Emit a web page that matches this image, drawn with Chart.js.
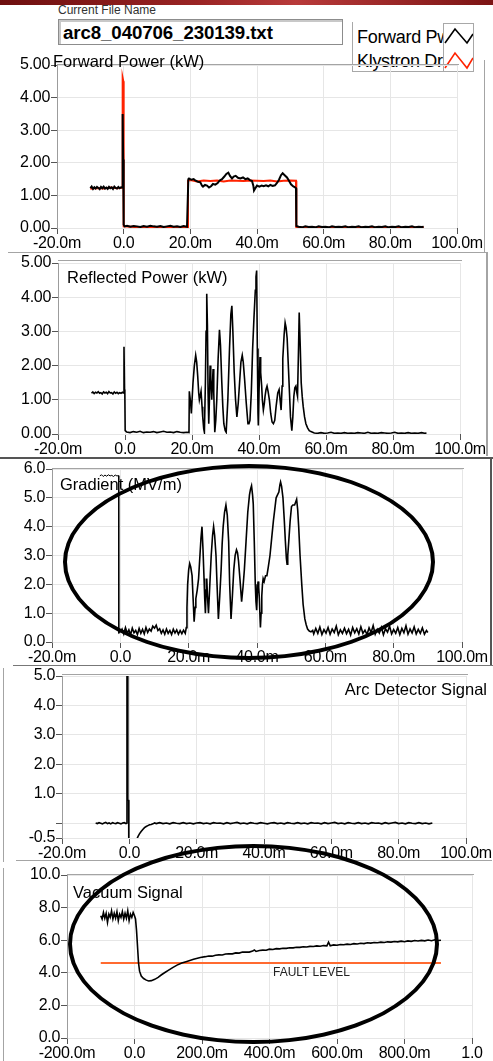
<!DOCTYPE html>
<html>
<head>
<meta charset="utf-8">
<script src="https://cdn.jsdelivr.net/npm/chart.js@4.4.1/dist/chart.umd.min.js"></script>
<style>
  body { margin:0; width:493px; height:1061px; overflow:hidden; background:#fff; position:relative;
         font-family:"Liberation Sans", Arial, sans-serif; }
  canvas { position:absolute; left:0; }
  .t { position:absolute; white-space:nowrap; line-height:1; color:#000; }
  .ln { position:absolute; background:#a4a4a4; }
  .ring { position:absolute; border:4px solid #000; border-radius:50%; box-sizing:border-box; pointer-events:none; }
  #banner { position:absolute; left:0; top:0; width:493px; height:5px;
            background:linear-gradient(90deg,#6e0f0f,#9a2424 40%,#b83a3a 60%,#7c1414); }
  #fileBox { position:absolute; left:58px; top:19px; width:285px; height:26px; box-sizing:border-box;
             border:1px solid #8c8c8c; box-shadow:inset 2px 2px 0 #c8c8c8; background:#fff; }
  #legText { position:absolute; left:352px; top:22px; width:91px; height:50px; overflow:hidden;
             border-left:1px solid #a8a8a8; border-bottom:1px solid #a8a8a8; box-sizing:border-box; }
  #legGlyph { position:absolute; left:443px; top:23px; width:31px; height:49px; box-sizing:border-box;
              border:1px solid #a8a8a8; background:#fff; }
</style>
</head>
<body>
<div id="banner"></div>
<div class="t" style="left:58px;top:4px;font-size:12px;color:#333">Current File Name</div>
<div id="fileBox"></div>
<div class="t" style="left:63px;top:24px;font-size:18.7px;font-weight:bold;letter-spacing:-0.1px">arc8_040706_230139.txt</div>

<div id="legText">
  <div class="t" style="left:4px;top:6px;font-size:18px;letter-spacing:-0.3px">Forward Pwr</div>
  <div class="t" style="left:4px;top:30px;font-size:18px;letter-spacing:-0.3px">Klystron Drive</div>
</div>
<div id="legGlyph">
  <svg width="29" height="47" viewBox="0 0 29 47">
    <polyline points="1,19 11,5 23,19 29,10" fill="none" stroke="#000" stroke-width="1.6"/>
    <polyline points="1,44 11,29 23,44 29,34" fill="none" stroke="#ff2200" stroke-width="1.6"/>
  </svg>
</div>

<!-- panel frames -->
<div class="ln" style="left:484px;top:60px;width:1px;height:192px"></div>
<div class="ln" style="left:8px;top:252px;width:478px;height:1px"></div>
<div class="ln" style="left:486px;top:252px;width:2px;height:204px"></div>
<div class="ln" style="left:0;top:457px;width:493px;height:2px;background:#555"></div>
<div class="ln" style="left:490px;top:458px;width:2px;height:207px;background:#555"></div>
<div class="ln" style="left:13px;top:665px;width:480px;height:1px;background:#777"></div>
<div class="ln" style="left:3px;top:668px;width:1px;height:194px"></div>
<div class="ln" style="left:16px;top:860px;width:476px;height:1px"></div>
<div class="ln" style="left:3px;top:868px;width:1px;height:193px"></div>

<canvas id="c1"></canvas>
<canvas id="c2"></canvas>
<canvas id="c3"></canvas>
<canvas id="c4"></canvas>
<canvas id="c5"></canvas>

<div class="t" style="left:53px;top:53px;font-size:16.5px">Forward Power (kW)</div>
<div class="t" style="left:67px;top:269px;font-size:16.5px">Reflected Power (kW)</div>
<div class="t" style="left:60px;top:476px;font-size:16.5px">Gradient (MV/m)</div>
<div class="t" style="right:6px;top:681px;font-size:16.5px">Arc Detector Signal</div>
<div class="t" style="left:73px;top:884px;font-size:16.5px">Vacuum Signal</div>
<div class="t" style="left:273px;top:966px;font-size:12px;color:#222">FAULT LEVEL</div>

<div class="ring" style="left:63px;top:464px;width:372px;height:196px"></div>
<div class="ring" style="left:68px;top:844px;width:371px;height:200px"></div>

<script>
// time in ms
const fwdPower = [[-10,1.22],[-9.6,1.27],[-9.2,1.20],[-8.8,1.25],[-8.4,1.21],[-8,1.26],[-7.6,1.23],[-7.2,1.19],[-6.8,1.26],[-6.4,1.22],[-6,1.27],[-5.6,1.21],[-5.2,1.24],[-4.8,1.20],[-4.4,1.26],[-4,1.22],[-3.6,1.25],[-3.2,1.20],[-2.8,1.27],[-2.4,1.23],[-2,1.21],[-1.6,1.26],[-1.2,1.22],[-0.8,1.25],[-0.5,1.24],[-0.3,3.50],[-0.15,2.10],[0,0.10],[0.3,0.05],[1,0.07],[2,0.04],[3,0.06],[4,0.05],[5,0.03],[6,0.06],[7,0.04],[8,0.07],[9,0.05],[10,0.04],[11,0.06],[12,0.03],[13,0.05],[14,0.07],[15,0.04],[16,0.05],[17,0.03],[18,0.06],[19,0.04],[19.3,0.04],[19.4,1.50],
  [19.6,1.52],[20.3,1.48],[21,1.50],[21.6,1.45],[22.3,1.42],[23,1.40],[23.5,1.30],[23.8,1.27],[24.4,1.32],[25,1.30],[25.6,1.24],[26.2,1.28],[26.8,1.35],[27.5,1.33],[28.2,1.38],[28.8,1.46],[29.5,1.50],[30.2,1.58],[30.8,1.66],[31.4,1.70],[31.9,1.60],[32.5,1.52],[33,1.58],[33.6,1.60],[34.3,1.54],[35,1.52],[35.8,1.55],[36.5,1.50],[37.2,1.52],[37.9,1.47],[38.5,1.44],[38.9,1.30],[39.1,1.15],[39.5,1.22],[40,1.30],[40.7,1.27],[41.4,1.30],[42,1.28],[42.7,1.31],[43.4,1.28],[44,1.32],[44.7,1.29],[45.4,1.31],[46,1.38],[46.6,1.48],[47.2,1.62],[47.7,1.68],[48.3,1.62],[49,1.55],[49.6,1.45],[50.2,1.34],[50.8,1.28],[51.4,1.25],[51.7,1.22],[51.8,0.06],
  [52.5,0.04],[53.5,0.02],[54.5,0.05],[55.5,0.03],[56.5,0.04],[57.5,0.02],[58.5,0.05],[59.5,0.03],[60.5,0.04],[61.5,0.02],[62.5,0.05],[63.5,0.03],[64.5,0.04],[65.5,0.03],[66.5,0.05],[67.5,0.02],[68.5,0.04],[69.5,0.03],[70.5,0.05],[71.5,0.02],[72.5,0.04],[73.5,0.03],[74.5,0.05],[75.5,0.02],[76.5,0.04],[77.5,0.03],[78.5,0.05],[79.5,0.02],[80.5,0.04],[81.5,0.03],[82.5,0.05],[83.5,0.02],[84.5,0.04],[85.5,0.03],[86.5,0.05],[87.5,0.02],[88.5,0.04],[89.5,0.03],[90,0.04]];

const klyDrive = [[-10,1.20],[-8,1.23],[-6,1.21],[-4,1.24],[-2,1.22],[-0.6,1.23],[-0.45,1.25],[-0.3,4.60],[-0.1,4.50],[0,0.05],[5,0.02],[10,0.03],[15,0.02],[19.2,0.02],[19.3,1.45],
  [20,1.47],[22,1.43],[24,1.46],[26,1.44],[28,1.46],[30,1.43],[32,1.46],[34,1.45],[36,1.44],[38,1.46],[40,1.45],[42,1.44],[44,1.46],[46,1.43],[48,1.45],[50,1.46],[51.7,1.45],[51.8,0.02],[60,0.01],[70,0.02],[80,0.01],[90,0.02]];

const reflPower = [[-10,1.19],[-9.6,1.23],[-9.2,1.18],[-8.8,1.22],[-8.4,1.20],[-8,1.24],[-7.6,1.19],[-7.2,1.21],[-6.8,1.17],[-6.4,1.23],[-6,1.20],[-5.6,1.22],[-5.2,1.18],[-4.8,1.24],[-4.4,1.20],[-4,1.21],[-3.6,1.17],[-3.2,1.23],[-2.8,1.19],[-2.4,1.22],[-2,1.18],[-1.6,1.21],[-1.2,1.19],[-0.8,1.22],[-0.5,1.20],[-0.3,2.55],[-0.15,1.30],[-0.05,1.20],[0.05,0.10],
  [0.5,0.06],[1.5,0.04],[2.5,0.07],[3.5,0.05],[4.5,0.08],[5.5,0.04],[6.5,0.06],[7.5,0.05],[8.5,0.07],[9.5,0.04],[10.5,0.06],[11.5,0.08],[12.5,0.05],[13.5,0.06],[14.5,0.04],[15.5,0.07],[16.5,0.05],[17.5,0.04],[18.5,0.05],[19.1,0.04],
  [19.2,1.25],[19.6,0.9],[19.8,0.6],[20.3,1.5],[20.7,2.0],[21.1,2.3],[21.4,2.1],[21.7,1.7],[22.0,1.2],[22.2,1.0],[22.5,1.15],[22.7,1.25],[23.0,0.8],[23.2,0.5],[23.5,0.15],[23.7,0.05],[24.0,1.5],[24.2,3.0],[24.4,4.1],[24.6,3.2],[24.8,1.2],[25.0,0.3],[25.2,1.0],[25.4,2.0],[25.6,1.6],[25.9,1.0],[26.1,1.5],[26.3,1.9],[26.5,1.2],[26.8,0.05],[27.1,0.4],[27.4,1.0],[27.8,2.2],[28.2,3.05],[28.5,2.6],[28.9,1.5],[29.2,0.8],[29.5,0.3],[29.9,0.1],[30.2,0.05],[30.7,1.0],[31.2,2.5],[31.6,3.5],[31.9,3.75],[32.2,3.0],[32.6,1.8],[33.0,1.0],[33.4,0.5],[33.8,0.9],[34.2,1.5],[34.6,2.1],[35.0,2.3],[35.3,2.1],[35.7,1.6],[36.2,0.9],[36.7,0.3],[37.0,0.3],[37.3,0.4],[37.7,1.2],[38.1,2.5],[38.5,3.4],[38.9,4.2],[39.1,4.6],[39.3,4.78],[39.5,2.5],[39.7,0.6],[39.8,0.25],[40.0,1.2],[40.3,2.25],[40.5,1.8],[40.8,1.4],[41.0,1.0],[41.3,0.7],[41.6,0.9],[41.8,1.1],[42.1,1.3],[42.4,1.4],[42.7,1.25],[43.1,1.0],[43.5,0.6],[43.9,0.35],[44.3,0.3],[44.7,0.4],[45.1,0.8],[45.6,1.2],[46.0,1.3],[46.3,1.0],[46.6,0.7],[46.9,1.4],[47.1,2.2],[47.5,2.9],[47.8,3.25],[48.1,3.1],[48.4,2.8],[48.8,1.9],[49.1,1.2],[49.4,0.5],[49.8,0.1],[50.1,0.5],[50.4,1.1],[50.7,1.35],[51.0,1.4],[51.3,1.2],[51.5,1.1],[51.8,2.5],[52.0,3.55],[52.3,2.6],[52.6,1.5],[52.9,1.1],[53.2,0.8],[53.6,0.5],[54.0,0.3],[54.5,0.18],[55.0,0.1],[55.5,0.07],[56.0,0.05],
  [56.5,0.03],[57.5,0.02],[58.5,0.04],[59.5,0.02],[60.5,0.03],[61.5,0.05],[62.5,0.02],[63.5,0.03],[64.5,0.02],[65.5,0.04],[66.5,0.02],[67.5,0.03],[68.5,0.02],[69.5,0.04],[70.5,0.03],[71.5,0.02],[72.5,0.05],[73.5,0.02],[74.5,0.03],[75.5,0.02],[76.5,0.04],[77.5,0.03],[78.5,0.02],[79.5,0.03],[80.5,0.05],[81.5,0.02],[82.5,0.03],[83.5,0.02],[84.5,0.04],[85.5,0.02],[86.5,0.03],[87.5,0.02],[88.5,0.04],[89.5,0.02],[90,0.03]];

const gradient = [[-6,5.76],[-5.5,5.80],[-5,5.74],[-4.5,5.79],[-4,5.75],[-3.5,5.80],[-3,5.76],[-2.5,5.78],[-2,5.74],[-1.5,5.79],[-1,5.76],[-0.5,5.77],[-0.45,0.30],
  [0,0.35],[0.5,0.45],[1,0.28],[1.5,0.50],[2,0.30],[2.5,0.42],[3,0.25],[3.5,0.48],[4,0.32],[4.5,0.40],[5,0.26],[5.5,0.47],[6,0.30],[6.5,0.44],[7,0.28],[7.5,0.50],[8,0.33],[8.5,0.45],[9,0.38],[9.5,0.55],[10,0.48],[10.5,0.58],[11,0.40],[11.5,0.46],[12,0.30],[12.5,0.42],[13,0.27],[13.5,0.45],[14,0.30],[14.5,0.40],[15,0.26],[15.5,0.44],[16,0.31],[16.5,0.42],[17,0.27],[17.5,0.40],[18,0.29],[18.5,0.41],[19,0.30],
  [19.3,0.5],[19.5,1.2],[19.7,2.0],[20.0,2.5],[20.3,2.72],[20.6,2.6],[21.0,2.3],[21.3,1.5],[21.6,0.7],[21.9,1.2],[22.1,1.5],[22.5,1.8],[22.9,2.2],[23.3,3.0],[23.6,3.6],[23.9,4.0],[24.2,3.2],[24.5,2.2],[24.7,1.5],[24.9,1.0],[25.1,1.8],[25.3,2.2],[25.5,1.6],[25.8,1.0],[26.2,2.0],[26.6,3.0],[27.0,3.7],[27.3,4.0],[27.6,3.7],[28.0,3.0],[28.3,2.0],[28.7,0.8],[29.1,1.6],[29.5,2.5],[29.8,3.4],[30.1,4.0],[30.5,4.5],[30.9,4.75],[31.3,4.4],[31.7,3.5],[32.0,2.0],[32.4,0.8],[32.8,1.6],[33.2,2.5],[33.6,3.0],[34.0,3.2],[34.3,3.1],[34.6,2.8],[35.0,2.2],[35.5,1.4],[35.9,1.9],[36.3,2.5],[36.8,3.5],[37.3,4.5],[37.8,5.1],[38.1,5.3],[38.4,5.42],[38.7,5.1],[38.9,4.8],[39.2,3.5],[39.5,2.0],[39.7,1.4],[39.9,1.1],[40.1,1.7],[40.3,2.1],[40.5,1.9],[40.7,1.5],[40.9,0.8],[41.0,0.5],[41.2,1.0],[41.4,1.6],[41.6,2.0],[41.8,2.2],[42.1,2.1],[42.5,2.3],[42.9,2.3],[43.3,2.6],[43.8,3.0],[44.3,3.6],[44.8,4.2],[45.2,4.6],[45.6,5.0],[46.0,5.1],[46.4,5.2],[46.7,5.45],[46.9,5.55],[47.2,5.4],[47.6,5.0],[48.0,4.2],[48.3,3.5],[48.6,2.9],[48.8,2.7],[49.0,3.0],[49.3,3.5],[49.7,4.2],[50.1,4.7],[50.5,4.75],[51.0,4.75],[51.3,4.85],[51.6,4.95],[51.9,4.6],[52.2,4.0],[52.6,3.0],[53.1,2.0],[53.5,1.3],[54.0,0.8],[54.4,0.6],[54.8,0.45],[55.3,0.38],
  [55.8,0.35],[56.3,0.40],[56.6,0.28],[57.2,0.47],[57.8,0.30],[58.4,0.52],[59,0.26],[59.6,0.43],[60.2,0.31],[60.8,0.50],[61.4,0.27],[62,0.45],[62.6,0.33],[63.2,0.55],[63.8,0.25],[64.4,0.42],[65,0.30],[65.6,0.48],[66.2,0.29],[66.8,0.44],[67.4,0.24],[68,0.50],[68.6,0.32],[69.2,0.46],[69.8,0.28],[70.4,0.53],[71,0.30],[71.6,0.41],[72.2,0.26],[72.8,0.49],[73.4,0.33],[74,0.57],[74.6,0.27],[75.2,0.44],[75.8,0.31],[76.4,0.51],[77,0.25],[77.6,0.46],[78.2,0.34],[78.8,0.55],[79.4,0.28],[80,0.43],[80.6,0.30],[81.2,0.50],[81.8,0.26],[82.4,0.47],[83,0.32],[83.6,0.56],[84.2,0.27],[84.8,0.45],[85.4,0.31],[86,0.52],[86.6,0.28],[87.2,0.44],[87.8,0.30],[88.4,0.49],[89,0.27],[89.6,0.40],[90,0.33]];

const arcSignal = [[-10,0.01],[-9.5,-0.01],[-9,0.02],[-8.5,0],[-8,-0.02],[-7.5,0.01],[-7,0.03],[-6.5,-0.01],[-6,0.01],[-5.5,-0.02],[-5,0.02],[-4.5,0],[-4,-0.01],[-3.5,0.02],[-3,0],[-2.5,-0.02],[-2,0.01],[-1.5,0.02],[-1,-0.01],[-0.75,0.01],[-0.7,5.0],[-0.5,5.0],[-0.45,0.8],[-0.2,0.78],[-0.15,-1.5],[0.5,-2.0],[1.5,-1.1],
  [2.2,-0.55],[2.6,-0.44],[3.0,-0.36],[3.5,-0.28],[4.0,-0.21],[4.5,-0.15],[5.0,-0.11],[5.5,-0.08],[6.0,-0.05],[6.5,-0.04],[7.0,-0.02],[7.5,0.01],[8,-0.01],[9,0.02],[10,-0.01],[11,0.01],[12,-0.02],[13,0.02],[14,0],[15,-0.01],[16,0.02],[17,-0.01],[18,0.01],[19,-0.02],[20,0.01],[21,0.02],[22,-0.01],[23,0.01],[24,-0.02],[25,0.02],[26,0],[27,0.01],[28,-0.02],[29,0.02],[30,-0.01],[31,0.01],[32,0.03],[33,-0.01],[34,0.01],[35,-0.02],[36,0.02],[37,0],[38,-0.01],[39,0.02],[40,0],[41,-0.02],[42,0.01],[43,0.02],[44,-0.01],[45,0.01],[46,-0.02],[47,0.02],[48,0],[49,-0.01],[50,0.02],[51,-0.01],[52,0.01],[53,-0.02],[54,0.02],[55,0],[56,0.01],[57,-0.02],[58,0.02],[59,-0.01],[60,0.01],[61,0.03],[62,-0.01],[63,0.01],[64,-0.02],[65,0.02],[66,0],[67,-0.01],[68,0.02],[69,-0.01],[70,0.01],[71,-0.02],[72,0.02],[73,0],[74,0.01],[75,-0.02],[76,0.02],[77,-0.01],[78,0.01],[79,0.03],[80,-0.01],[81,0.01],[82,-0.02],[83,0.02],[84,0],[85,-0.01],[86,0.02],[87,-0.01],[88,0.01],[89,-0.02],[90,0.01]];

const vacSignal = [[-100,7.5],[-96,7.3],[-92,7.7],[-88,7.35],[-84,7.65],[-80,7.1],[-76,7.6],[-72,7.4],[-68,7.8],[-64,7.3],[-60,7.65],[-56,7.35],[-52,7.75],[-48,7.2],[-44,7.6],[-40,7.4],[-36,7.75],[-32,7.3],[-28,7.65],[-24,7.35],[-20,7.8],[-16,7.2],[-12,7.6],[-8,7.4],[-4,7.7],[0,7.5],
  [3,7.3],[6,6.6],[9,5.6],[12,4.6],[15,4.1],[20,3.8],[27,3.65],[35,3.55],[42,3.5],[50,3.52],[60,3.6],[70,3.72],[80,3.88],[90,4.02],[100,4.15],[113,4.32],[126,4.47],[140,4.6],[155,4.7],[175,4.83],[195,4.94],
  [210,4.99],[220,5.03],[230,5.02],[240,5.08],[250,5.10],[260,5.09],[270,5.15],[280,5.17],[290,5.16],[300,5.22],[310,5.21],[320,5.27],[330,5.28],[340,5.27],[350,5.33],[355,5.40],[360,5.31],[370,5.37],[380,5.39],[390,5.38],[400,5.45],[410,5.43],[420,5.48],[430,5.47],[440,5.51],[450,5.50],[460,5.54],[470,5.53],[480,5.57],[490,5.56],[500,5.60],[510,5.58],[520,5.62],[530,5.61],[540,5.65],[550,5.63],[560,5.67],[570,5.65],[575,5.88],[580,5.66],[590,5.71],[600,5.69],[610,5.74],[620,5.72],[630,5.76],[640,5.74],[650,5.79],[660,5.77],[670,5.81],[680,5.79],[690,5.84],[700,5.82],[710,5.86],[720,5.84],[730,5.88],[740,5.86],[750,5.90],[760,5.88],[770,5.92],[780,5.90],[790,5.94],[800,5.91],[810,5.96],[820,5.93],[830,5.98],[840,5.95],[850,5.99],[860,5.96],[870,6.01],[880,5.97],[890,6.03],[900,5.98],[908,6.00]];

const faultLevel = [[-100,4.6],[908,4.6]];

const msTicks = [-20, 0, 20, 40, 60, 80, 100];
const vacTicks = [-200, 0, 200, 400, 600, 800, 1000];
const kwTicks = [0, 1, 2, 3, 4, 5];
const mvTicks = [0, 1, 2, 3, 4, 5, 6];
const arcTicks = [-0.5, 0, 1, 2, 3, 4, 5];
const vacLevelTicks = [0, 2, 4, 6, 8, 10];

Chart.defaults.font.family = '"Liberation Sans", Arial, sans-serif';
Chart.defaults.font.size = 16;
Chart.defaults.color = '#000';

const pts = a => a.map(p => ({x: p[0], y: p[1]}));
const msLabel = v => v === 0 ? '0.0' : v.toFixed(1) + 'm';
const vacLabel = v => v === 0 ? '0.0' : (v === 1000 ? '1.0' : v.toFixed(1) + 'm');

// grey rule just above each plot area
const topEdge = {
  id: 'topEdge',
  beforeDraw(c) { c.ctx.letterSpacing = '-0.3px'; },
  afterDraw(c, args, o) {
    const a = c.chartArea, ctx = c.ctx;
    ctx.save();
    ctx.strokeStyle = '#a4a4a4';
    ctx.lineWidth = 1;
    ctx.beginPath();
    ctx.moveTo(a.left, Math.round(a.top - o.gap) + 0.5);
    ctx.lineTo(a.right + 2, Math.round(a.top - o.gap) + 0.5);
    ctx.stroke();
    ctx.restore();
  }
};

function panel(id, p) {
  const [left, right, top, bottom] = p.box;
  const cv = document.getElementById(id);
  cv.width = 493;
  cv.height = bottom - top + 12 + 26;
  cv.style.top = (top - 12) + 'px';
  new Chart(cv, {
    type: 'line',
    data: {
      datasets: p.series.map(s => ({
        data: pts(s.data), borderColor: s.color, borderWidth: s.width || 1.5,
        pointRadius: 0, fill: false, tension: 0,
        segment: s.thinBefore === undefined ? undefined :
          {borderWidth: ctx => ctx.p0.parsed.x < s.thinBefore ? 1 : s.width}
      }))
    },
    options: {
      responsive: false, animation: false, devicePixelRatio: 1,
      layout: {padding: {top: 12, left: 0, right: 493 - right, bottom: 0}},
      plugins: {legend: {display: false}, tooltip: {enabled: false}, topEdge: {gap: p.gap}},
      scales: {
        x: {
          type: 'linear', min: p.xTicks[0], max: p.xTicks[p.xTicks.length - 1],
          afterFit(s) { s.height = 26; },
          afterBuildTicks(s) { s.ticks = p.xTicks.map(v => ({value: v})); },
          ticks: {autoSkip: false, maxRotation: 0, padding: 0, callback: p.xFmt},
          grid: {color: '#e6e6e6', tickColor: '#555', tickLength: 6},
          border: {display: false}
        },
        y: {
          min: p.yTicks[0], max: p.yTicks[p.yTicks.length - 1],
          afterFit(s) { s.width = left; },
          afterBuildTicks(s) { s.ticks = p.yTicks.map(v => ({value: v})); },
          ticks: {padding: 1, callback: p.yFmt},
          grid: {color: '#e6e6e6', tickColor: '#555', tickLength: 6},
          border: {display: true, color: '#9c9c9c'}
        }
      }
    },
    plugins: [topEdge]
  });
}

panel('c1', {box: [57, 457, 65, 228], gap: 1.5, xTicks: msTicks, xFmt: msLabel, yTicks: kwTicks,
  yFmt: v => v.toFixed(2),
  series: [{data: fwdPower, color: '#000', width: 2}, {data: klyDrive, color: '#ff2200', width: 2}]});

panel('c2', {box: [58, 460, 263, 434], gap: 3, xTicks: msTicks, xFmt: msLabel, yTicks: kwTicks,
  yFmt: v => v.toFixed(2),
  series: [{data: reflPower, color: '#000', width: 1.6}]});

panel('c3', {box: [52, 462, 469, 642], gap: 1.5, xTicks: msTicks, xFmt: msLabel, yTicks: mvTicks,
  yFmt: v => v.toFixed(1),
  series: [{data: gradient, color: '#000', width: 1.6, thinBefore: -0.4}]});

panel('c4', {box: [62, 466, 676, 838], gap: 2, xTicks: msTicks, xFmt: msLabel, yTicks: arcTicks,
  yFmt: v => v === 0 ? '' : v.toFixed(1),
  series: [{data: arcSignal, color: '#000', width: 1.6}]});

panel('c5', {box: [67, 472, 875, 1038], gap: 1.5, xTicks: vacTicks, xFmt: vacLabel, yTicks: vacLevelTicks,
  yFmt: v => v.toFixed(1),
  series: [{data: vacSignal, color: '#000', width: 1.6}, {data: faultLevel, color: '#ff6a30', width: 2}]});
</script>
</body>
</html>
